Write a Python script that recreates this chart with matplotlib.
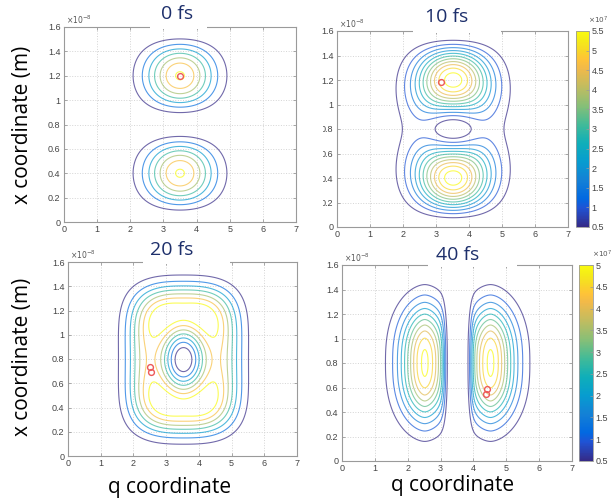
import numpy as np
import matplotlib
matplotlib.use("Agg")
import matplotlib.pyplot as plt
from matplotlib.colors import LinearSegmentedColormap, Normalize
from matplotlib.patches import Rectangle
from matplotlib.cm import ScalarMappable

# ---------------- data ----------------
titles = ["0 fs", "10 fs", "20 fs", "40 fs"]
q_ticks = [0, 1, 2, 3, 4, 5, 6, 7]
x_ticks = [0, 0.2, 0.4, 0.6, 0.8, 1.0, 1.2, 1.4, 1.6]          # x 1e-8 m
x_tick_labels = ["0", "0.2", "0.4", "0.6", "0.8", "1", "1.2", "1.4", "1.6"]
box_length = 1.6                                                # x 1e-8 m

# 0 fs : two lobes (ground state in q, second box state in x)
p0_peak = 3.56
p0_q_center = 3.5
p0_q_width = 1.01
p0_levels = [0.5, 1.0, 1.5, 2.0, 2.5, 3.0, 3.5]
p0_clim = [0.5, 3.5]
p0_marker_q = [3.5]
p0_marker_x = [1.2]

# 10 fs : main two-lobe part + weak side part
p10_peak_main = 5.8
p10_q_center = 3.52
p10_q_width = 1.01
p10_peak_side = 0.83
p10_side_width = 1.0
p10_levels = [0.5, 1.0, 1.5, 2.0, 2.5, 3.0, 3.5, 4.0, 4.5, 5.0, 5.5]
p10_clim = [0.5, 5.5]
cbar10_ticks = [0.5, 1, 1.5, 2, 2.5, 3, 3.5, 4, 4.5, 5, 5.5]
cbar10_labels = ["0.5", "1", "1.5", "2", "2.5", "3", "3.5", "4", "4.5", "5", "5.5"]
p10_marker_q = [3.15]
p10_marker_x = [1.18]

# 20 fs : ring shaped density
p20_amp = 9.7
p20_center = [3.53, 0.795]
p20_env_q = [1.55, 3.3]
p20_env_x = [0.544, 4.0]
p20_hole = [0.775, 0.383]
p20_mod = 0.6
p20_levels = [1, 2, 3, 4, 5, 6, 7]
p20_clim = [1, 7]
p20_marker_q = [2.5, 2.55]
p20_marker_x = [0.73, 0.69]

# 40 fs : two side lobes in q, single lobe in x
p40_peak = 5.15
p40_lobe_q = [2.52, 4.52]
p40_lobe_width = 0.74
p40_lobe_power = 1.76
p40_cut_q = [3.14, 3.90]
p40_cut_soft = 0.055
p40_x_center = 0.8
p40_x_width = 0.455
p40_x_power = 2.48
p40_levels = [0.5, 1.0, 1.5, 2.0, 2.5, 3.0, 3.5, 4.0, 4.5, 5.0]
p40_clim = [0.5, 5.0]
cbar40_ticks = [0.5, 1, 1.5, 2, 2.5, 3, 3.5, 4, 4.5, 5]
cbar40_labels = ["0.5", "1", "1.5", "2", "2.5", "3", "3.5", "4", "4.5", "5"]
p40_marker_q = [4.40, 4.37]
p40_marker_x = [0.59, 0.55]

# ---------------- colormap (parula-like) ----------------
_par_idx = [0, 6, 9, 15, 21, 27, 33, 39, 45, 51, 54, 57, 60, 63]
_par_rgb = [(0.2081, 0.1663, 0.5292), (0.1253, 0.3242, 0.8303), (0.0060, 0.4086, 0.8828),
            (0.0779, 0.5040, 0.8384), (0.0265, 0.6137, 0.8135), (0.0590, 0.6838, 0.7254),
            (0.2586, 0.7317, 0.5954), (0.5300, 0.7491, 0.4661), (0.7525, 0.7384, 0.3768),
            (0.9450, 0.7261, 0.2886), (0.9990, 0.7653, 0.2164), (0.9697, 0.8481, 0.1475),
            (0.9598, 0.9218, 0.0948), (0.9763, 0.9831, 0.0538)]
parula = LinearSegmentedColormap.from_list("parula", list(zip([i / 63 for i in _par_idx], _par_rgb)))

# ---------------- fields ----------------
qg = np.linspace(0, 7, 450)
xg = np.linspace(0, 1.6, 450)
Q, X = np.meshgrid(qg, xg)
box2 = np.sin(2 * np.pi * X / box_length) ** 2
box1 = np.sin(np.pi * X / box_length) ** 2

D0 = p0_peak * np.exp(-((Q - p0_q_center) / p0_q_width) ** 2) * box2

u10 = (Q - p10_q_center) / p10_side_width
D10 = (p10_peak_main * np.exp(-((Q - p10_q_center) / p10_q_width) ** 2) * box2
       + p10_peak_side * u10 ** 2 * np.exp(1 - u10 ** 2) * box1)

dq = Q - p20_center[0]
dx = X - p20_center[1]
env = np.exp(-np.abs(dq / p20_env_q[0]) ** p20_env_q[1] - np.abs(dx / p20_env_x[0]) ** p20_env_x[1])
rq = (dq / p20_hole[0]) ** 2
rx = (dx / p20_hole[1]) ** 2
hole = 1 - np.exp(-(rq + rx))
ang = rx / (rq + rx + 1e-12)
D20 = p20_amp * env * hole * (1 + p20_mod * ang)

left = np.exp(-np.abs((Q - p40_lobe_q[0]) / p40_lobe_width) ** p40_lobe_power) / (1 + np.exp((Q - p40_cut_q[0]) / p40_cut_soft))
right = np.exp(-np.abs((Q - p40_lobe_q[1]) / p40_lobe_width) ** p40_lobe_power) / (1 + np.exp((p40_cut_q[1] - Q) / p40_cut_soft))
xprof40 = np.exp(-np.abs((X - p40_x_center) / p40_x_width) ** p40_x_power)
D40 = p40_peak * (left + right) * xprof40

# ---------------- layout ----------------
W, H = 615, 499
fig = plt.figure(figsize=(W / 100, H / 100), dpi=100)
fig.patch.set_facecolor("white")

def rect(l, t, r, b):
    return [l / W, 1 - b / H, (r - l) / W, (b - t) / H]

TICK_FONT = "Liberation Sans"
LABEL_FONT = "Open Sans"
GRAY = "#9a9a9a"

panels = [
    dict(pos=(64, 27, 296, 222), D=D0, lev=p0_levels, clim=p0_clim, mq=p0_marker_q, mx=p0_marker_x,
         cbar=None, title=titles[0], tpos=(177, 14), white=(150, 207)),
    dict(pos=(337, 31, 568, 227), D=D10, lev=p10_levels, clim=p10_clim, mq=p10_marker_q, mx=p10_marker_x,
         cbar=((576, 31, 589, 227), cbar10_ticks, cbar10_labels), title=titles[1], tpos=(447, 17), white=(413, 501)),
    dict(pos=(68, 262, 297, 456), D=D20, lev=p20_levels, clim=p20_clim, mq=p20_marker_q, mx=p20_marker_x,
         cbar=None, title=titles[2], tpos=(172, 250), white=(143, 230)),
    dict(pos=(342, 265, 572, 461), D=D40, lev=p40_levels, clim=p40_clim, mq=p40_marker_q, mx=p40_marker_x,
         cbar=((579, 265, 593, 461), cbar40_ticks, cbar40_labels), title=titles[3], tpos=(458, 255), white=(428, 517)),
]

for p in panels:
    ax = fig.add_axes(rect(*p["pos"]))
    norm = Normalize(*p["clim"])
    ax.contour(Q, X, p["D"], levels=p["lev"], cmap=parula, norm=norm, linewidths=0.8, alpha=0.7)
    ax.plot(p["mq"], p["mx"], "o", mfc="none", mec=(0.93, 0.35, 0.35), ms=4.2, mew=1.0, zorder=5)
    ax.set_xlim(0, 7)
    ax.set_ylim(0, 1.6)
    ax.set_xticks(q_ticks)
    ax.set_yticks(x_ticks)
    ax.set_yticklabels(x_tick_labels)
    ax.grid(True, color="#d4d4d4", linestyle=":", linewidth=0.7)
    ax.tick_params(direction="in", length=2.5, width=0.6, color=GRAY, top=True, right=True,
                   labelsize=6.5, labelcolor="#444444", pad=2.5)
    for lab in ax.get_xticklabels() + ax.get_yticklabels():
        lab.set_family(TICK_FONT)
    for s in ax.spines.values():
        s.set_color(GRAY)
        s.set_linewidth(0.8)
    ax.text(0.01, 1.004, r"$\times10^{-8}$", transform=ax.transAxes, fontsize=5.5, color="#555555",
            ha="left", va="bottom")
    if p["cbar"] is not None:
        cpos, cticks, clabels = p["cbar"]
        cax = fig.add_axes(rect(*cpos))
        cb = fig.colorbar(ScalarMappable(norm=norm, cmap=parula), cax=cax)
        cb.set_ticks(cticks)
        cb.set_ticklabels(clabels)
        cb.outline.set_edgecolor(GRAY)
        cb.outline.set_linewidth(0.6)
        cax.tick_params(direction="in", length=2, width=0.5, color=GRAY, labelsize=6.5,
                        labelcolor="#444444", pad=2)
        for lab in cax.get_yticklabels():
            lab.set_family(TICK_FONT)
        cax.text(0.9, 1.025, r"$\times10^{7}$", transform=cax.transAxes, fontsize=5.2, color="#555555",
                 ha="left", va="bottom")
    # white title box hiding part of the top spine
    l, t, r, b = p["pos"]
    w0, w1 = p["white"]
    fig.add_artist(Rectangle((w0 / W, 1 - (t + 1.5) / H), (w1 - w0) / W, 9 / H,
                             transform=fig.transFigure, fc="white", ec="none", zorder=5))
    fig.text(p["tpos"][0] / W, 1 - p["tpos"][1] / H, p["title"], fontsize=14, family=LABEL_FONT,
             color="#1d2f6b", ha="center", va="center", zorder=6)

# crop edge of the 10 fs panel (left part of some tick labels hidden)
fig.add_artist(Rectangle((300 / W, 1 - 222 / H), 23 / W, 105 / H, transform=fig.transFigure,
                         fc="white", ec="none", zorder=5))

# axis labels
for y in (125, 357):
    fig.text(23 / W, 1 - y / H, "x coordinate (m)", rotation=90, fontsize=15, family=LABEL_FONT,
             ha="center", va="center", color="black")
for xpos, y in ((170, 487), (453, 485)):
    fig.text(xpos / W, 1 - y / H, "q coordinate", fontsize=15, family=LABEL_FONT,
             ha="center", va="center", color="black")

fig.savefig("out.png", dpi=100, facecolor="white")
